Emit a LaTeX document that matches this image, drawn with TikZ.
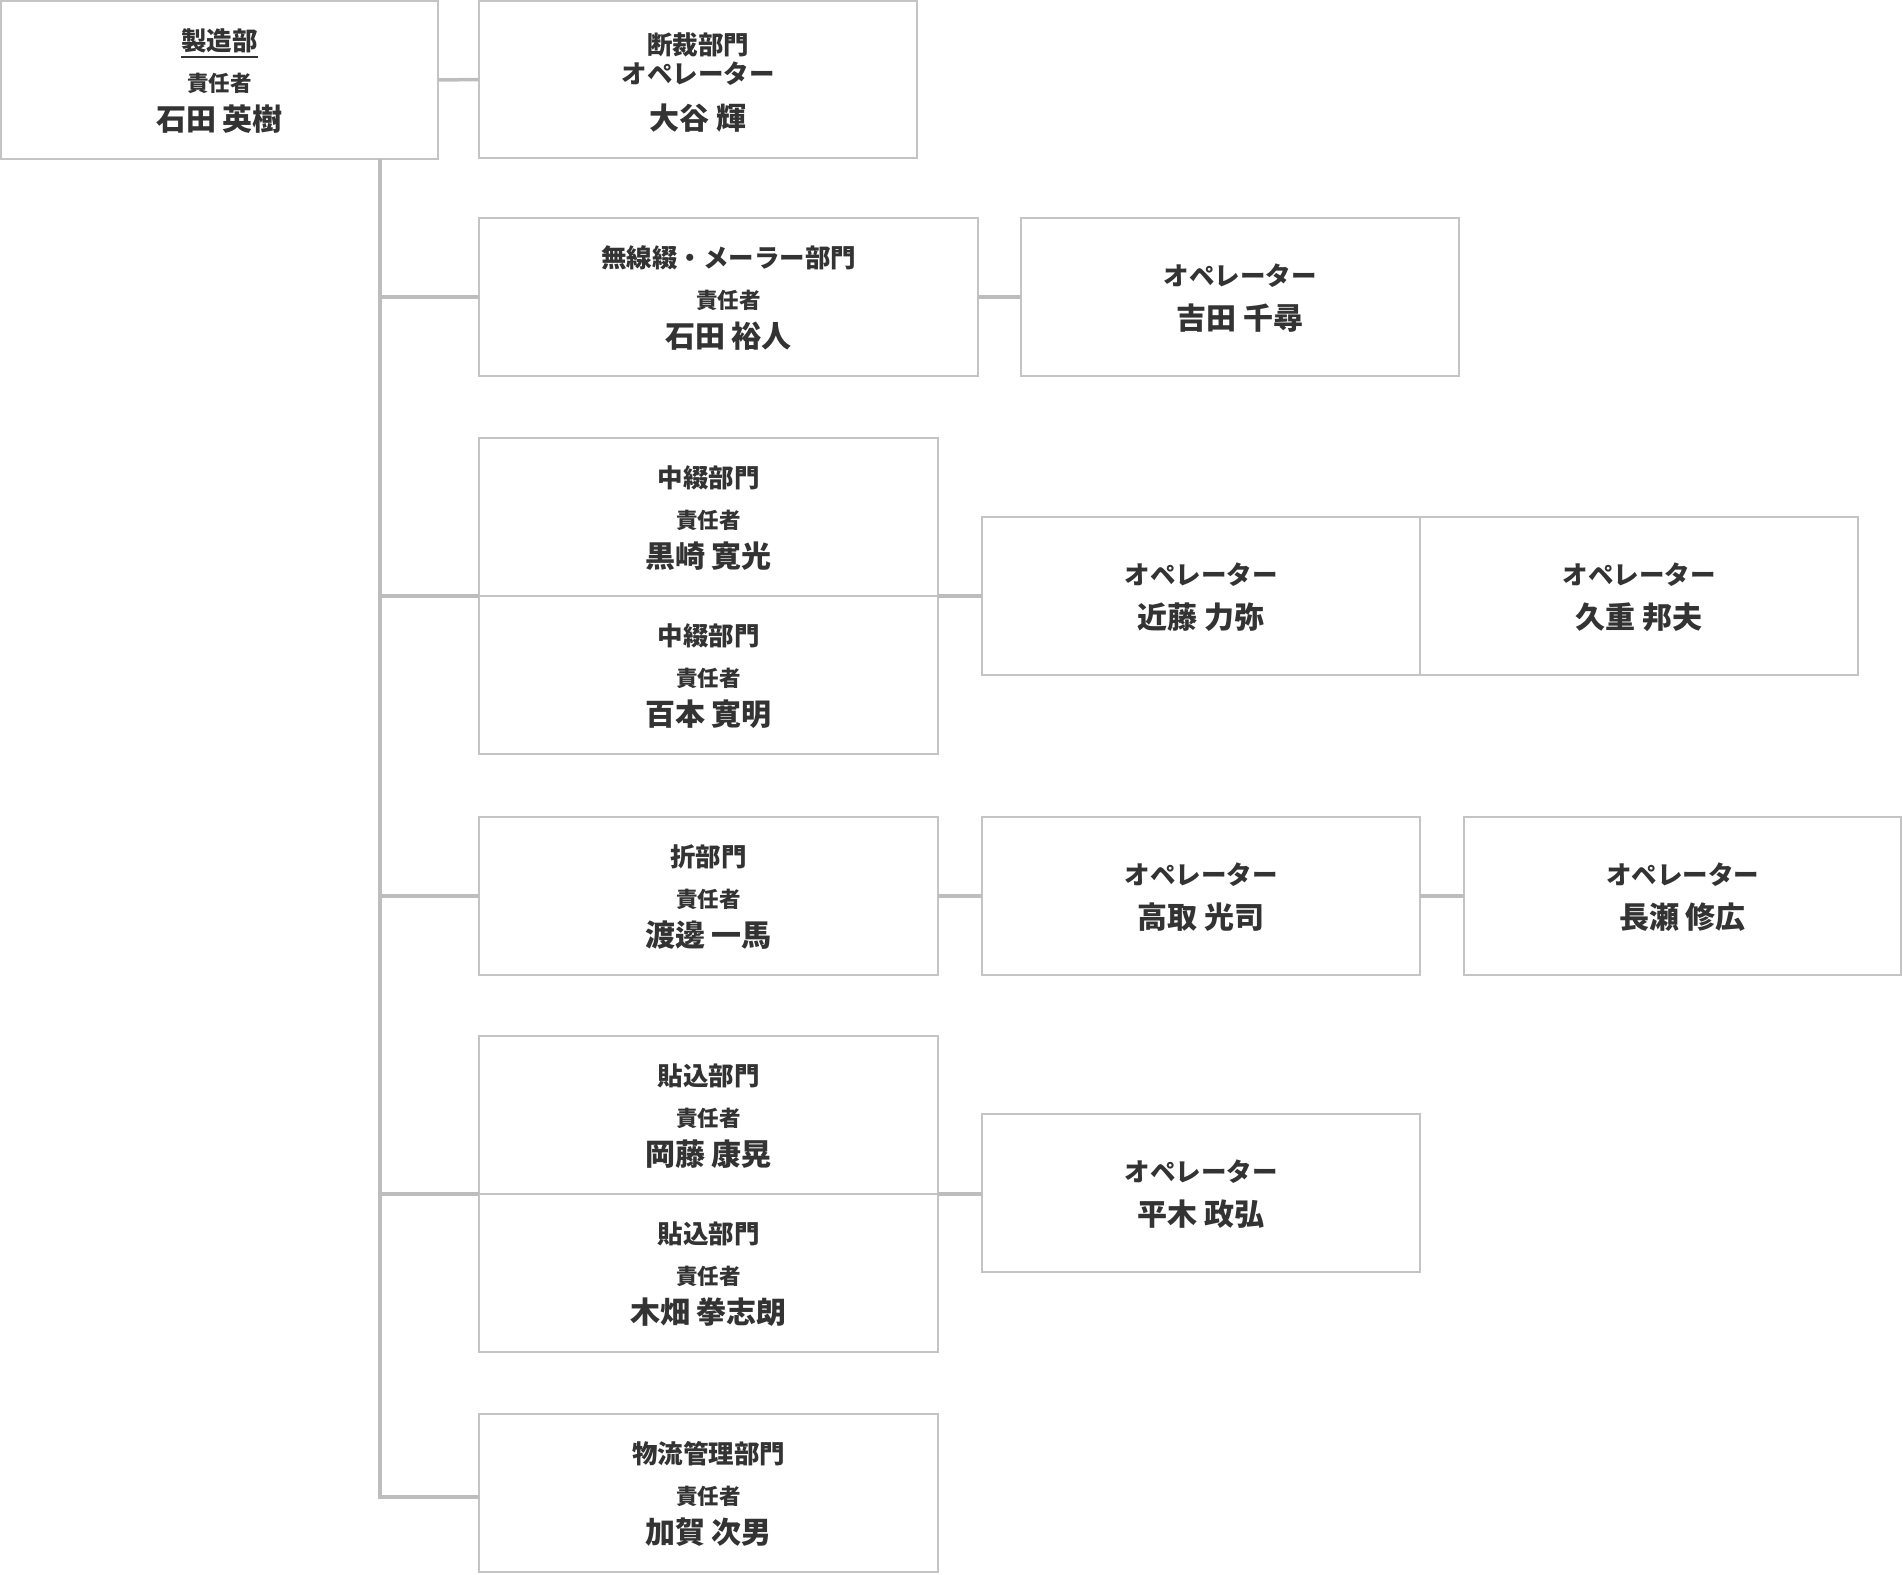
\documentclass[tikz,border=0pt]{standalone}
\usepackage{fontspec}
\setmainfont{Noto Sans CJK JP}
\definecolor{txt}{HTML}{333333}
\definecolor{bord}{HTML}{C4C4C4}
\definecolor{conn}{HTML}{BDBDBD}
\tikzset{
  box/.style={draw=bord, line width=2pt, fill=white, minimum height=158pt, inner sep=0pt, outer sep=0pt, anchor=north west},
  ttl/.style={text=txt, inner sep=0pt, font=\bfseries\fontsize{25.5}{29}\selectfont},
  sub/.style={text=txt, inner sep=0pt, font=\bfseries\fontsize{21.5}{25}\selectfont},
  nm/.style={text=txt, inner sep=0pt, font=\bfseries\fontsize{30}{34}\selectfont},
  link/.style={draw=conn, line width=3.5pt},
  uline/.style={draw=txt, line width=2pt}
}
\newcommand{\mgrbox}[6]{%
  \node[box, minimum width=#4pt] (#1) at (#2,#3) {};
  \node[ttl] (#1-t) at ([yshift=-40pt]#1.north) {#5};
  \node[sub] (#1-s) at ([yshift=-82pt]#1.north) {責任者};
  \node[nm] (#1-n) at ([yshift=-118pt]#1.north) {#6};
}
\newcommand{\opbox}[5]{%
  \node[box, minimum width=#4pt] (#1) at (#2,#3) {};
  \node[ttl] (#1-t) at ([yshift=-58pt]#1.north) {オペレーター};
  \node[nm] (#1-n) at ([yshift=-100pt]#1.north) {#5};
}
\begin{document}
\begin{tikzpicture}[x=1pt,y=-1pt]
\useasboundingbox (0,0) rectangle (1903,1574);
\coordinate (trunktop) at (380,150);
% boxes
\mgrbox{A}{1}{1}{437}{製造部}{石田 英樹}
\node[box, minimum width=438pt, minimum height=157pt] (B) at (479,1) {};
\node[ttl] (B-t) at ([yshift=-44pt]B.north) {断裁部門};
\node[ttl] (B-t2) at ([yshift=-73pt]B.north) {オペレーター};
\node[nm] (B-n) at ([yshift=-117pt]B.north) {大谷 輝};
\mgrbox{C}{479}{218}{499}{無線綴・メーラー部門}{石田 裕人}
\opbox{D}{1021}{218}{438}{吉田 千尋}
\mgrbox{E1}{479}{438}{459}{中綴部門}{黒崎 寛光}
\mgrbox{E2}{479}{596}{459}{中綴部門}{百本 寛明}
\opbox{F}{982}{517}{438}{近藤 力弥}
\opbox{F2}{1420}{517}{438}{久重 邦夫}
\mgrbox{G}{479}{817}{459}{折部門}{渡邊 一馬}
\opbox{H}{982}{817}{438}{高取 光司}
\opbox{I}{1464}{817}{437}{長瀬 修広}
\mgrbox{J1}{479}{1036}{459}{貼込部門}{岡藤 康晃}
\mgrbox{J2}{479}{1194}{459}{貼込部門}{木畑 拳志朗}
\opbox{K}{982}{1114}{438}{平木 政弘}
\mgrbox{L}{479}{1414}{459}{物流管理部門}{加賀 次男}
% underline
\draw[uline] ([yshift=-16pt]A-t.west) -- ([yshift=-16pt]A-t.east);
% connectors
\coordinate (trunkstart) at (A.south -| trunktop);
\coordinate (Lin) at ([yshift=-4pt]L.west);
\draw[link, line join=miter] (trunkstart) |- (Lin);
\draw[link] (trunkstart |- C.west) -- (C.west);
\draw[link] (trunkstart |- E1.south west) -- (E1.south west);
\draw[link] (trunkstart |- G.west) -- (G.west);
\draw[link] (trunkstart |- J1.south west) -- (J1.south west);
\draw[link] (A.east) -- (B.west);
\draw[link] (C.east) -- (D.west);
\draw[link] (E1.south east) -- (E1.south east -| F.west);
\draw[link] (G.east) -- (H.west);
\draw[link] (H.east) -- (I.west);
\draw[link] (J1.south east) -- (J1.south east -| K.west);
\end{tikzpicture}
\end{document}
